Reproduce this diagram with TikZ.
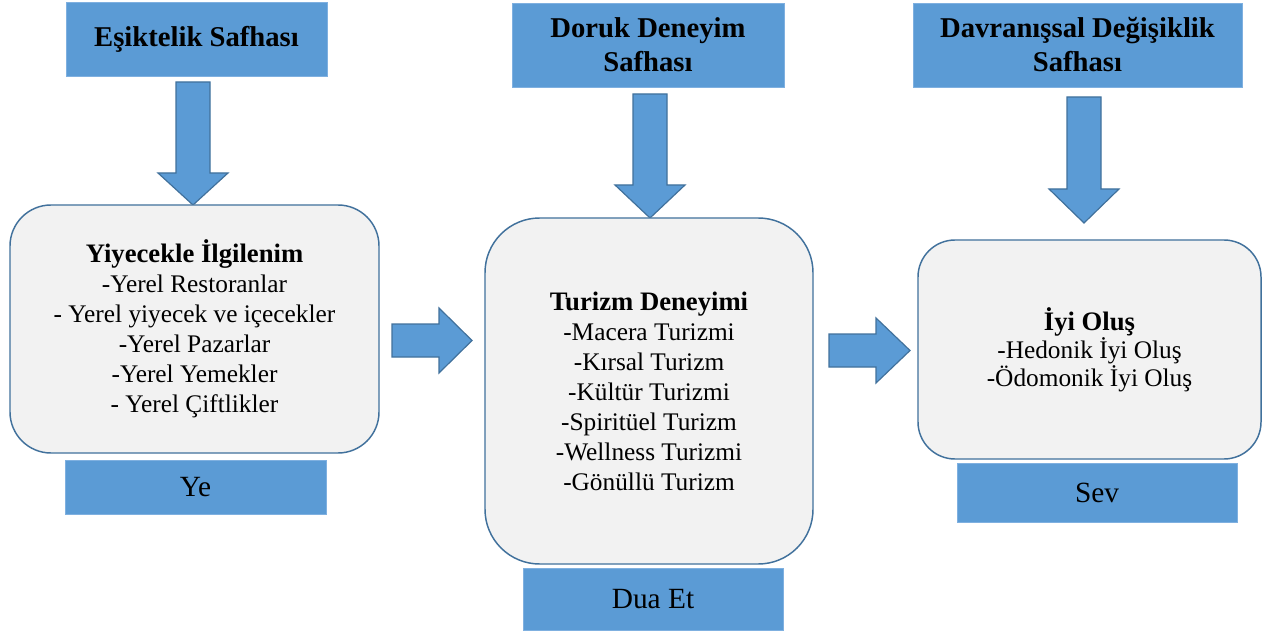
\documentclass[tikz,border=0pt]{standalone}
\usepackage{fontspec}
\setmainfont{Liberation Serif}
\definecolor{blueF}{HTML}{5B9BD5}
\definecolor{blueD}{HTML}{41719C}
\definecolor{boxF}{HTML}{F2F2F2}
\definecolor{blueL}{HTML}{7FB0E0}
\newcommand\blockdown[4]{%
  \draw[arrowblk] ({#1-17},#2) -- ({#1+17},#2) -- ({#1+17},#3) -- ({#1+35},#3) -- (#1,#4) -- ({#1-35},#3) -- ({#1-17},#3) -- cycle;}
\newcommand\blockright[4]{%
  \draw[arrowblk] (#2,{#1-16.5}) -- (#2,{#1+16.5}) -- (#3,{#1+16.5}) -- (#3,{#1+32.5}) -- (#4,#1) -- (#3,{#1-32.5}) -- (#3,{#1-16.5}) -- cycle;}
\begin{document}
\begin{tikzpicture}[x=0.75pt,y=-0.75pt,
  arrowblk/.style={fill=blueF,draw=blueD,line width=0.9pt,line join=miter},
  titlebox/.style={rectangle,fill=blueF,draw=blueL,line width=0.5pt,align=center,inner sep=0pt,
     font=\bfseries\fontsize{21.5}{25.5}\selectfont},
  labelbox/.style={rectangle,fill=blueF,draw=blueL,line width=0.5pt,align=center,inner sep=0pt,
     font=\fontsize{22}{26}\selectfont},
  roundbox/.style={rectangle,fill=boxF,draw=blueD,line width=1.1pt,align=center,inner sep=0pt,
     font=\fontsize{19}{22.5}\selectfont}]
\useasboundingbox (0,0) rectangle (1262,634);
\fill[white] (0,0) rectangle (1262,634);

% top title boxes
\node[titlebox,minimum width=195.75pt,minimum height=55.5pt] (t1) at (196.5,39) {Eşiktelik Safhası};
\node[titlebox,minimum width=204pt,minimum height=63pt] (t2) at (648,45) {Doruk Deneyim\\Safhası};
\node[titlebox,minimum width=246.75pt,minimum height=63pt] (t3) at (1077.5,45) {Davranışsal Değişiklik\\Safhası};

% down block arrows
\blockdown{193}{82}{173}{205}
\blockdown{650}{94}{185}{218}
\blockdown{1084}{97}{189}{223}

% rounded content boxes
\node[roundbox,rounded corners=30.75pt,minimum width=276.75pt,minimum height=186pt] (b1) at (194.5,329)
  {{\bfseries\fontsize{20}{22.5}\selectfont Yiyecekle İlgilenim}\\-Yerel Restoranlar\\- Yerel yiyecek ve içecekler\\-Yerel Pazarlar\\-Yerel Yemekler\\- Yerel Çiftlikler};
\node[roundbox,rounded corners=41pt,minimum width=246pt,minimum height=259.5pt] (b2) at (649,391)
  {{\bfseries\fontsize{20}{22.5}\selectfont Turizm Deneyimi}\\-Macera Turizmi\\-Kırsal Turizm\\-Kültür Turizmi\\-Spiritüel Turizm\\-Wellness Turizmi\\-Gönüllü Turizm};
\node[roundbox,rounded corners=27.75pt,minimum width=257.25pt,minimum height=164.25pt,
  font=\fontsize{19}{21}\selectfont] (b3) at (1089.5,349.5)
  {{\bfseries\fontsize{20}{21}\selectfont İyi Oluş}\\-Hedonik İyi Oluş\\-Ödomonik İyi Oluş};

% right block arrows
\blockright{340.5}{392}{439}{472}
\blockright{350.5}{829}{876}{910}

% bottom label boxes
\node[labelbox,minimum width=195.75pt,minimum height=40.5pt] (l1) at (195.5,487) {Ye};
\node[labelbox,minimum width=195pt,minimum height=46.5pt] (l2) at (653,599) {Dua Et};
\node[labelbox,minimum width=210pt,minimum height=44.25pt] (l3) at (1097,492.5) {Sev};
\end{tikzpicture}
\end{document}
